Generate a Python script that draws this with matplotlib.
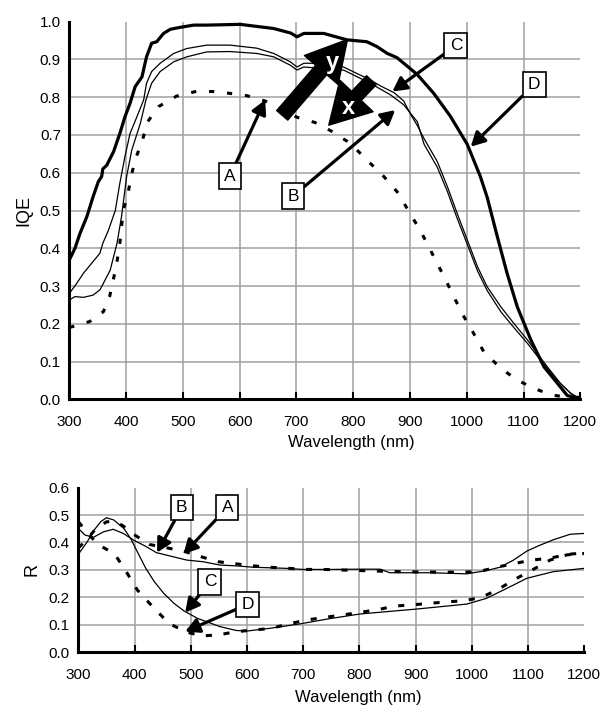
import numpy as np
import matplotlib
matplotlib.use("Agg")
import matplotlib.pyplot as plt
from matplotlib.patches import FancyArrowPatch, ArrowStyle

plt.rcParams['font.family'] = ['Liberation Sans', 'DejaVu Sans']

# ---- IQE (top panel) ----
wl_iqe_a = [300, 336, 360, 371, 378, 384, 389, 395, 404, 410, 418, 429, 438, 457, 489, 525, 554,
            584, 613, 645, 701, 733, 763, 795, 824, 854, 880, 898, 918, 933, 948, 963, 977, 995,
            1012, 1030, 1060, 1089, 1118, 1151, 1180, 1200]
iqe_a = [0.19, 0.206, 0.232, 0.272, 0.32, 0.364, 0.413, 0.50, 0.55, 0.598, 0.642, 0.687, 0.735,
         0.775, 0.803, 0.816, 0.815, 0.81, 0.804, 0.79, 0.747, 0.733, 0.709, 0.678, 0.634, 0.59,
         0.545, 0.497, 0.448, 0.404, 0.36, 0.316, 0.272, 0.219, 0.175, 0.126, 0.082, 0.051, 0.029,
         0.011, 0.005, 0.005]

wl_iqe_b = [300, 310, 325, 342, 354, 360, 372, 384, 392, 401, 410, 425, 435, 445, 460, 484, 507,
            542, 583, 630, 660, 689, 701, 713, 783, 830, 866, 889, 913, 925, 948, 966, 983, 1001,
            1019, 1036, 1060, 1083, 1107, 1124, 1142, 1165, 1183, 1195, 1200]
iqe_b = [0.263, 0.272, 0.27, 0.276, 0.29, 0.307, 0.342, 0.413, 0.484, 0.59, 0.66, 0.73, 0.793,
         0.837, 0.868, 0.894, 0.907, 0.92, 0.921, 0.916, 0.907, 0.885, 0.872, 0.88, 0.872, 0.837,
         0.806, 0.78, 0.735, 0.675, 0.615, 0.55, 0.48, 0.41, 0.34, 0.288, 0.232, 0.19, 0.148,
         0.115, 0.082, 0.042, 0.016, 0.005, 0.005]

wl_iqe_c = [300, 313, 325, 342, 354, 359, 369, 381, 389, 398, 407, 419, 431, 436, 445, 460, 484,
            507, 542, 583, 630, 660, 689, 701, 713, 740, 783, 830, 848, 872, 889, 901, 913, 925,
            948, 966, 983, 1001, 1019, 1036, 1060, 1083, 1107, 1124, 1142, 1165, 1183, 1195, 1200]
iqe_c = [0.28, 0.307, 0.334, 0.365, 0.387, 0.413, 0.448, 0.50, 0.572, 0.643, 0.704, 0.748, 0.793,
         0.837, 0.868, 0.89, 0.916, 0.929, 0.938, 0.938, 0.93, 0.916, 0.894, 0.88, 0.89, 0.89,
         0.88, 0.846, 0.83, 0.812, 0.79, 0.755, 0.725, 0.69, 0.63, 0.563, 0.493, 0.422, 0.351,
         0.298, 0.245, 0.201, 0.157, 0.122, 0.086, 0.042, 0.016, 0.005, 0.005]

wl_iqe_d = [300, 310, 319, 331, 342, 351, 357, 359, 366, 378, 389, 398, 407, 416, 428, 436, 445,
            454, 466, 478, 495, 519, 542, 601, 660, 690, 701, 713, 748, 789, 824, 842, 860, 877,
            901, 913, 942, 971, 1001, 1024, 1036, 1054, 1071, 1089, 1113, 1136, 1160, 1177, 1190,
            1200]
iqe_d = [0.369, 0.40, 0.44, 0.484, 0.537, 0.576, 0.59, 0.61, 0.62, 0.656, 0.704, 0.748, 0.784,
         0.828, 0.854, 0.907, 0.943, 0.947, 0.969, 0.98, 0.985, 0.991, 0.991, 0.993, 0.982, 0.97,
         0.96, 0.969, 0.969, 0.952, 0.947, 0.934, 0.916, 0.905, 0.875, 0.86, 0.81, 0.75, 0.675,
         0.59, 0.535, 0.43, 0.334, 0.245, 0.157, 0.086, 0.042, 0.01, 0.005, 0.005]

# ---- Reflectance (bottom panel) ----
wl_r_a = [300, 315, 331, 350, 364, 380, 396, 426, 464, 491, 522, 549, 582, 611, 641, 674, 706,
          736, 800, 850, 900, 950, 1000, 1020, 1044, 1077, 1106, 1139, 1171, 1200]
r_a = [0.38, 0.41, 0.45, 0.475, 0.478, 0.46, 0.433, 0.393, 0.378, 0.366, 0.346, 0.33, 0.322,
       0.315, 0.31, 0.306, 0.302, 0.302, 0.298, 0.295, 0.293, 0.292, 0.293, 0.298, 0.31, 0.324,
       0.336, 0.343, 0.357, 0.362]

wl_r_b = [300, 312, 327, 345, 362, 380, 398, 419, 439, 463, 493, 522, 552, 581, 611, 641, 670,
          700, 747, 800, 837, 854, 925, 991, 1026, 1050, 1074, 1098, 1121, 1145, 1175, 1200]
r_b = [0.451, 0.427, 0.419, 0.439, 0.448, 0.433, 0.409, 0.387, 0.363, 0.351, 0.336, 0.33, 0.318,
       0.315, 0.31, 0.308, 0.306, 0.302, 0.302, 0.303, 0.303, 0.29, 0.29, 0.286, 0.298, 0.31,
       0.336, 0.369, 0.39, 0.41, 0.43, 0.433]

wl_r_c = [300, 316, 328, 340, 350, 363, 381, 393, 405, 420, 435, 452, 470, 488, 512, 552, 581,
          600, 641, 694, 747, 801, 902, 991, 1026, 1062, 1098, 1145, 1200]
r_c = [0.357, 0.403, 0.445, 0.476, 0.49, 0.482, 0.451, 0.415, 0.366, 0.306, 0.258, 0.215, 0.179,
       0.151, 0.124, 0.094, 0.08, 0.078, 0.088, 0.104, 0.123, 0.14, 0.158, 0.176, 0.197, 0.233,
       0.27, 0.294, 0.306]

wl_r_d = [300, 318, 337, 355, 366, 387, 405, 432, 461, 490, 519, 549, 582, 614, 644, 674, 706,
          739, 769, 801, 831, 863, 893, 926, 955, 985, 1017, 1047, 1080, 1109, 1139, 1169, 1200]
r_d = [0.476, 0.43, 0.39, 0.37, 0.354, 0.288, 0.227, 0.167, 0.106, 0.076, 0.06, 0.064, 0.076,
       0.082, 0.088, 0.104, 0.118, 0.128, 0.136, 0.146, 0.155, 0.169, 0.173, 0.179, 0.184, 0.188,
       0.2, 0.23, 0.27, 0.302, 0.336, 0.355, 0.36]

x_ticks = [300, 400, 500, 600, 700, 800, 900, 1000, 1100, 1200]

# label boxes: (letter, box position, arrow tip)
top_labels = [("A", (583, 0.591), (645, 0.793)),
              ("B", (694, 0.538), (874, 0.766)),
              ("C", (981, 0.937), (869, 0.815)),
              ("D", (1119, 0.834), (1007, 0.669))]
bot_labels = [("B", (484, 0.527), (440, 0.363)),
              ("A", (565, 0.527), (487, 0.358)),
              ("C", (534, 0.257), (490, 0.145)),
              ("D", (601, 0.175), (490, 0.076))]


def style_axes(ax, ymax, ystep, ylabel, label_x, label_y, ylab_x):
    ax.set_xlim(300, 1200)
    ax.set_ylim(0, ymax)
    ax.set_xticks(x_ticks)
    yt = np.round(np.arange(0, ymax + ystep / 2, ystep), 2)
    ax.set_yticks(yt)
    ax.set_yticklabels([f"{v:.1f}" for v in yt])
    ax.grid(True, color="#a0a0a0", lw=1.1)
    ax.set_axisbelow(True)
    ax.get_xgridlines()[-1].set_visible(False)
    ax.get_ygridlines()[-1].set_visible(False)
    for s in ["top", "right"]:
        ax.spines[s].set_visible(False)
    for s in ["left", "bottom"]:
        ax.spines[s].set_linewidth(2.2)
    ax.tick_params(axis="x", direction="in", length=5, width=1.5, pad=11, labelsize=11)
    ax.tick_params(axis="y", length=0, pad=6, labelsize=11)
    ax.set_xlabel("Wavelength (nm)", fontsize=12)
    ax.xaxis.set_label_coords(label_x, label_y)
    ax.set_ylabel(ylabel, fontsize=13)
    ax.yaxis.set_label_coords(ylab_x, 0.5)


def add_labels(ax, labels):
    for letter, box, tip in labels:
        ax.annotate(letter, xy=tip, xytext=box, fontsize=12.5, ha="center", va="center",
                    bbox=dict(boxstyle="square,pad=0.3", fc="white", ec="black", lw=1.2),
                    arrowprops=dict(arrowstyle="-|>,head_length=0.6,head_width=0.32",
                                    mutation_scale=14, lw=2.3, color="black",
                                    shrinkA=0, shrinkB=0))


fig = plt.figure(figsize=(6.1, 7.05), dpi=100)
ax1 = fig.add_axes([0.1136, 0.4336, 0.8377, 0.5356])
ax2 = fig.add_axes([0.1284, 0.0745, 0.8295, 0.234])

# top panel
ax1.plot(wl_iqe_a, iqe_a, color="black", lw=2.2, dashes=(1.7, 4.2))
ax1.plot(wl_iqe_b, iqe_b, color="black", lw=0.9)
ax1.plot(wl_iqe_c, iqe_c, color="black", lw=0.9)
ax1.plot(wl_iqe_d, iqe_d, color="black", lw=2.3)
style_axes(ax1, 1.0, 0.1, "IQE", 0.551, -0.095, -0.073)
add_labels(ax1, top_labels)

# big y / x arrows
y_arrow = FancyArrowPatch((675, 0.752), (790, 0.953),
                          arrowstyle=ArrowStyle.Simple(head_length=2.9, head_width=3.2, tail_width=1.05),
                          mutation_scale=10, color="black", shrinkA=0, shrinkB=0, zorder=5)
x_arrow = FancyArrowPatch((832, 0.845), (757, 0.726),
                          arrowstyle=ArrowStyle.Simple(head_length=2.9, head_width=3.3, tail_width=0.95),
                          mutation_scale=10, color="black", shrinkA=0, shrinkB=0, zorder=5)
ax1.add_patch(y_arrow)
ax1.add_patch(x_arrow)
ax1.text(763, 0.893, "y", color="white", fontsize=17, fontweight="bold",
         ha="center", va="center", zorder=6)
ax1.text(791, 0.772, "x", color="white", fontsize=17, fontweight="bold",
         ha="center", va="center", zorder=6)

# bottom panel
ax2.plot(wl_r_a, r_a, color="black", lw=2.2, dashes=(2.0, 3.8))
ax2.plot(wl_r_b, r_b, color="black", lw=0.9)
ax2.plot(wl_r_c, r_c, color="black", lw=0.9)
ax2.plot(wl_r_d, r_d, color="black", lw=2.2, dashes=(2.0, 3.8))
style_axes(ax2, 0.6, 0.1, "R", 0.553, -0.227, -0.0757)
add_labels(ax2, bot_labels)

fig.savefig("out.png", dpi=100)
